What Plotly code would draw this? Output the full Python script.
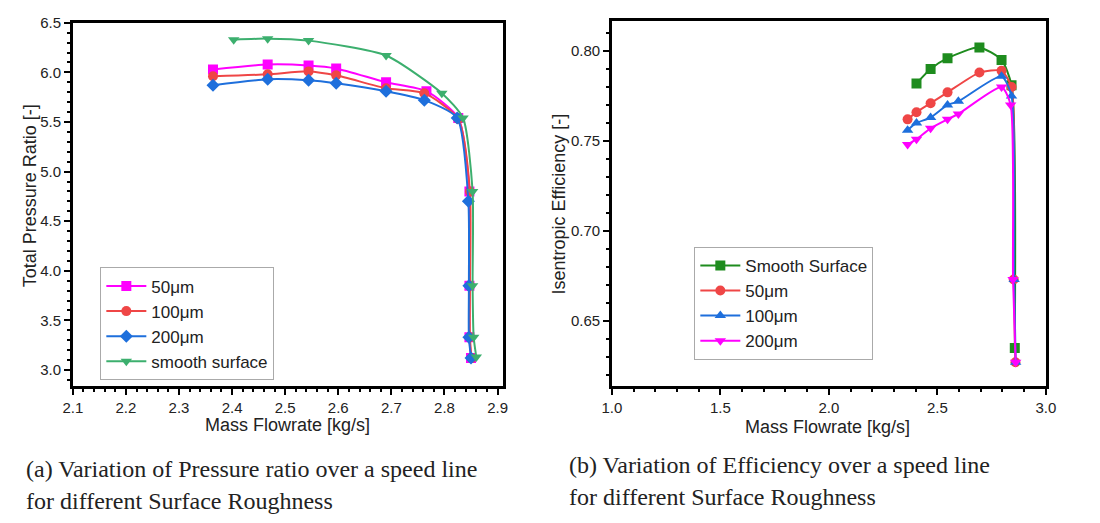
import plotly.graph_objects as go

# ---------------- Left panel: Total Pressure Ratio ----------------
pr_x_50 = [2.364, 2.467, 2.544, 2.596, 2.690, 2.766, 2.826, 2.847, 2.847, 2.847, 2.850]
pr_y_50 = [6.03, 6.08, 6.07, 6.04, 5.90, 5.81, 5.54, 4.80, 3.85, 3.33, 3.12]
pr_x_100 = [2.364, 2.467, 2.544, 2.596, 2.690, 2.762, 2.826, 2.848, 2.848, 2.848, 2.851]
pr_y_100 = [5.96, 5.98, 6.01, 5.97, 5.84, 5.79, 5.53, 4.80, 3.85, 3.33, 3.12]
pr_x_200 = [2.364, 2.467, 2.544, 2.596, 2.690, 2.762, 2.824, 2.845, 2.846, 2.846, 2.850]
pr_y_200 = [5.87, 5.93, 5.92, 5.89, 5.81, 5.72, 5.54, 4.70, 3.85, 3.33, 3.12]
pr_x_smooth = [2.403, 2.467, 2.544, 2.690, 2.795, 2.835, 2.853, 2.853, 2.855, 2.860]
pr_y_smooth = [6.33, 6.34, 6.32, 6.17, 5.79, 5.54, 4.80, 3.85, 3.33, 3.13]

# ---------------- Right panel: Isentropic Efficiency ----------------
ef_x_smooth = [2.404, 2.469, 2.547, 2.694, 2.796, 2.842, 2.857]
ef_y_smooth = [0.782, 0.790, 0.796, 0.802, 0.795, 0.781, 0.635]
ef_x_50 = [2.363, 2.404, 2.469, 2.547, 2.694, 2.796, 2.842, 2.852, 2.860]
ef_y_50 = [0.762, 0.766, 0.771, 0.777, 0.788, 0.789, 0.780, 0.673, 0.627]
ef_x_100 = [2.363, 2.404, 2.469, 2.547, 2.597, 2.796, 2.842, 2.854, 2.861]
ef_y_100 = [0.756, 0.760, 0.763, 0.770, 0.772, 0.786, 0.775, 0.673, 0.627]
ef_x_200 = [2.363, 2.404, 2.469, 2.547, 2.597, 2.796, 2.838, 2.849, 2.861]
ef_y_200 = [0.748, 0.751, 0.757, 0.762, 0.765, 0.780, 0.770, 0.673, 0.627]

MAGENTA = "#FF00FF"
RED = "#EF4646"
BLUE = "#1E6FDC"
GREEN_L = "#3CAF6E"
GREEN_R = "#1E8C1E"

fig = go.Figure()

def add(x, y, name, color, symbol, xa, ya, legend):
    fig.add_trace(go.Scatter(
        x=x, y=y, name=name, mode="lines+markers",
        line=dict(color=color, width=2, shape="spline", smoothing=0.6),
        marker=dict(color=color, symbol=symbol, size=10),
        xaxis=xa, yaxis=ya, legend=legend,
    ))

add(pr_x_50, pr_y_50, "50μm", MAGENTA, "square", "x", "y", "legend")
add(pr_x_100, pr_y_100, "100μm", RED, "circle", "x", "y", "legend")
add(pr_x_200, pr_y_200, "200μm", BLUE, "diamond", "x", "y", "legend")
add(pr_x_smooth, pr_y_smooth, "smooth surface", GREEN_L, "triangle-down", "x", "y", "legend")

add(ef_x_smooth, ef_y_smooth, "Smooth Surface", GREEN_R, "square", "x2", "y2", "legend2")
add(ef_x_50, ef_y_50, "50μm", RED, "circle", "x2", "y2", "legend2")
add(ef_x_100, ef_y_100, "100μm", BLUE, "triangle-up", "x2", "y2", "legend2")
add(ef_x_200, ef_y_200, "200μm", MAGENTA, "triangle-down", "x2", "y2", "legend2")

W, H = 1100, 523
def px(x):
    return x / W
def py(y):
    return 1 - y / H

tickfont = dict(family="Liberation Sans, Arial", size=15, color="#222")
axis_common = dict(
    showline=True, linewidth=2.5, linecolor="black", mirror=True,
    ticks="outside", ticklen=6, tickwidth=1.5, tickcolor="black",
    showgrid=False, zeroline=False, tickfont=tickfont,
)

legend_font = dict(family="Liberation Sans, Arial", size=17, color="#222")

fig.update_layout(
    width=W, height=H, autosize=False,
    margin=dict(l=0, r=0, t=0, b=0),
    paper_bgcolor="white", plot_bgcolor="white",
    font=dict(family="Liberation Sans, Arial", color="#222"),
    xaxis=dict(domain=[px(64), px(502)], range=[2.1, 2.91], dtick=0.1, tick0=2.1,
               tickformat=".1f", anchor="y",
               minor=dict(dtick=0.02, ticks="outside", ticklen=3, tickcolor="black"),
               **axis_common),
    yaxis=dict(domain=[py(384), py(14)], range=[2.835, 6.5], dtick=0.5, tick0=3.0,
               tickformat=".1f", anchor="x",
               minor=dict(dtick=0.1, ticks="outside", ticklen=3, tickcolor="black"),
               **axis_common),
    xaxis2=dict(domain=[px(613), px(1055)], range=[1.0, 3.0], dtick=0.5, tick0=1.0,
                tickformat=".1f", anchor="y2",
                minor=dict(dtick=0.1, ticks="outside", ticklen=3, tickcolor="black"),
                **axis_common),
    yaxis2=dict(domain=[py(384), py(12.7)], range=[0.6136, 0.8164], dtick=0.05, tick0=0.65,
                tickformat=".2f", anchor="x2",
                minor=dict(dtick=0.01, ticks="outside", ticklen=3, tickcolor="black"),
                **axis_common),
    legend=dict(x=px(92), y=py(263), xanchor="left", yanchor="top",
                bordercolor="#aaaaaa", borderwidth=1, bgcolor="white",
                font=legend_font, itemwidth=40, tracegroupgap=0),
    legend2=dict(x=px(697), y=py(242), xanchor="left", yanchor="top",
                 bordercolor="#aaaaaa", borderwidth=1, bgcolor="white",
                 font=legend_font, itemwidth=40, tracegroupgap=0),
    showlegend=True,
)

title_font = dict(family="Liberation Sans, Arial", size=18, color="#222")
annotations = [
    dict(text="Mass Flowrate [kg/s]", x=px(283), y=py(423), font=title_font),
    dict(text="Mass Flowrate [kg/s]", x=px(833), y=py(425), font=title_font),
    dict(text="Total Pressure Ratio [-]", x=px(20), y=py(190), textangle=-90, font=title_font),
    dict(text="Isentropic Efficiency [-]", x=px(559), y=py(198), textangle=-90, font=title_font),
]
cap_font = dict(family="Liberation Serif, Times New Roman", size=24, color="#222")
captions = [
    ("(a) Variation of Pressure ratio over a speed line", 14, 468),
    ("for different Surface Roughness", 14, 501),
    ("(b) Variation of Efficiency over a speed line", 567, 464),
    ("for different Surface Roughness", 567, 497),
]
for t, x, y in captions:
    annotations.append(dict(text=t, x=px(x), y=py(y), xanchor="left", font=cap_font))
for a in annotations:
    a.setdefault("xanchor", "center")
    a.update(xref="paper", yref="paper", yanchor="middle", showarrow=False)
fig.update_layout(annotations=annotations)

fig.write_html("out.html")
